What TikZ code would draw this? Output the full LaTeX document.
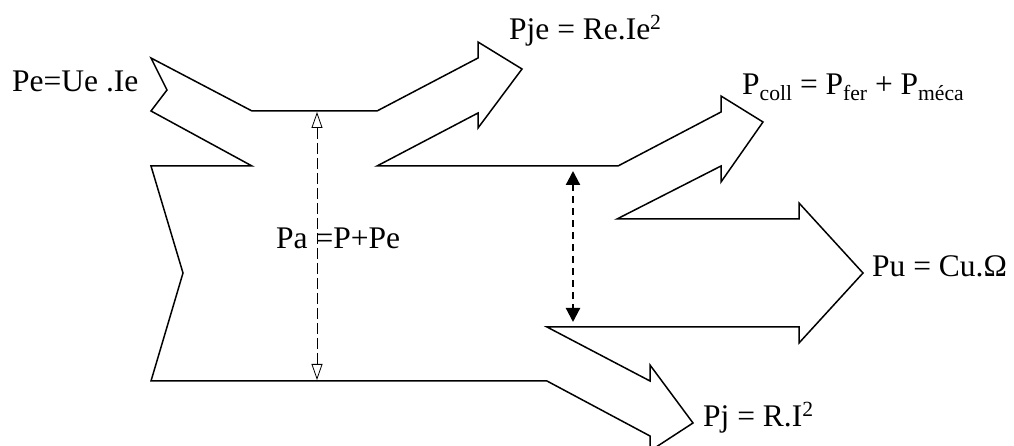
\documentclass[tikz,border=0pt]{standalone}
\usepackage{fontspec}
\setmainfont{Liberation Serif}
\usetikzlibrary{arrows.meta}

\newcommand{\pwrsub}[1]{\raisebox{-6bp}{\fontsize{21.7}{24}\selectfont #1}}
\newcommand{\pwrsup}[1]{\raisebox{10bp}{\fontsize{21.7}{24}\selectfont #1}}

\begin{document}
\begin{tikzpicture}[
  x=1bp, y=-1bp,
  every node/.style={font=\fontsize{31.6}{38}\selectfont, inner sep=0pt, anchor=base west},
  outline/.style={line width=1.5bp, line join=miter},
  paarrow/.style={line width=0.8bp, dash pattern=on 11bp off 4bp,
    {Triangle[open,length=16bp,width=11bp]}-{Triangle[open,length=16bp,width=11bp]}},
  lossarrow/.style={line width=2.2bp, dash pattern=on 7bp off 5bp,
    {Triangle[length=14bp,width=14bp]}-{Triangle[length=14bp,width=14bp]}},
]
\clip (0,0) rectangle (1014,446);

%% ── Power flow outline ──────────────────────────────────────────────────────
\draw[outline] (151,111) -- (167,90) -- (151,58) -- (252,111) -- (377,111)
  -- (478,58) -- (478,42) -- (522,69) -- (478,128) -- (478,113)   % Pje
  -- (377,166) -- (618,166)
  -- (721,112) -- (721,96) -- (763,122) -- (721,182) -- (721,166)  % Pcoll
  -- (617,219) -- (799,219)
  -- (799,203) -- (863,273) -- (799,343) -- (799,327)              % Pu
  -- (547,327)
  -- (650,381) -- (650,365) -- (693,423) -- (650,451) -- (650,436) % Pj
  -- (547,381) -- (151,381) -- (183,273) -- (151,166) -- (252,166) -- cycle;

%% ── Labels ──────────────────────────────────────────────────────────────────
\node (peLabel)    at (12, 92)   {Pe=Ue .Ie};
\node (pjeLabel)   at (509, 40)  {Pje = Re.Ie\pwrsup{2}};
\node (pcollLabel) at (742, 95)  {P\pwrsub{coll} = P\pwrsub{fer} + P\pwrsub{méca}};
\node (puLabel)    at (872, 277) {Pu = Cu.Ω};
\node (pjLabel)    at (703, 426) {Pj = R.I\pwrsup{2}};
\node (paLabel)    at (276, 249) {Pa =P+Pe};

%% ── Double arrows ───────────────────────────────────────────────────────────
\coordinate (paTop) at (317,112);
\coordinate (paBot) at (317,380);
\draw[paarrow] (paTop) -- (paBot);

\coordinate (gapTop) at (573,171);
\coordinate (gapBot) at (573,322);
\draw[lossarrow] (gapTop) -- (gapBot);

\end{tikzpicture}
\end{document}
